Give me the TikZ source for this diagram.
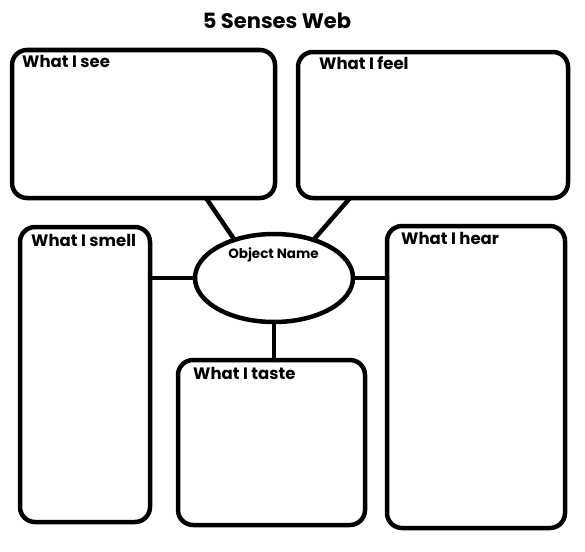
\documentclass[tikz,border=0pt]{standalone}
\usepackage{fontspec}
\setmainfont{Poppins}
\usepackage{tikz}
\usetikzlibrary{
  positioning,
  shapes.geometric
}
\tikzset{
  sensebox/.style={draw=black,line width=4.5pt,rounded corners=15pt,anchor=north west,inner sep=0pt,outer sep=0pt},
  sensetext/.style={anchor=north west,inner sep=0pt,font=\fontsize{16.5}{18}\selectfont\bfseries},
  objectnode/.style={draw=black,ellipse,line width=4.5pt,minimum width=158pt,minimum height=88pt,inner sep=0pt,outer sep=0pt},
  webline/.style={draw=black,line width=4.5pt,line cap=round}
}

\begin{document}
\begin{tikzpicture}[x=1pt,y=-1pt]
\useasboundingbox (0,0) rectangle (585,551);
\node[anchor=base,font=\fontsize{21}{24}\selectfont\bfseries] (title) at (277,29) {5 Senses Web};
% the five boxes
\node[sensebox,minimum width=263pt,minimum height=148pt,label={[sensetext,xshift=10pt,yshift=-5pt]north west:What I see}] (see) at (12,50) {};
\node[sensebox,minimum width=270pt,minimum height=146pt,label={[sensetext,xshift=21pt,yshift=-4pt]north west:What I feel}] (feel) at (298,52) {};
\node[sensebox,minimum width=130pt,minimum height=295pt,label={[sensetext,xshift=11pt,yshift=-7pt]north west:What I smell}] (smell) at (20,227) {};
\node[sensebox,minimum width=178pt,minimum height=302pt,label={[sensetext,xshift=14pt,yshift=-6pt]north west:What I hear}] (hear) at (387,226) {};
\node[sensebox,minimum width=187pt,minimum height=165pt,label={[sensetext,xshift=15pt,yshift=-7pt]north west:What I taste}] (taste) at (178,360) {};
% middle
\node[objectnode] (obj) at (274,278) {};
\node[anchor=base,font=\fontsize{13.5}{15}\selectfont\bfseries] (objname) at (273.5,258.3) {Object Name};
\coordinate (seefoot) at (206,198);
\coordinate (feelfoot) at (350,198);
\draw[webline] (seefoot) -- (obj.136);
\draw[webline] (feelfoot) -- (obj.44);
\draw[webline] (obj.west) -- (obj.west -| smell.east);
\draw[webline] (obj.east) -- (obj.east -| hear.west);
\draw[webline] (obj.south) -- (obj.south |- taste.north);
\end{tikzpicture}
\end{document}
